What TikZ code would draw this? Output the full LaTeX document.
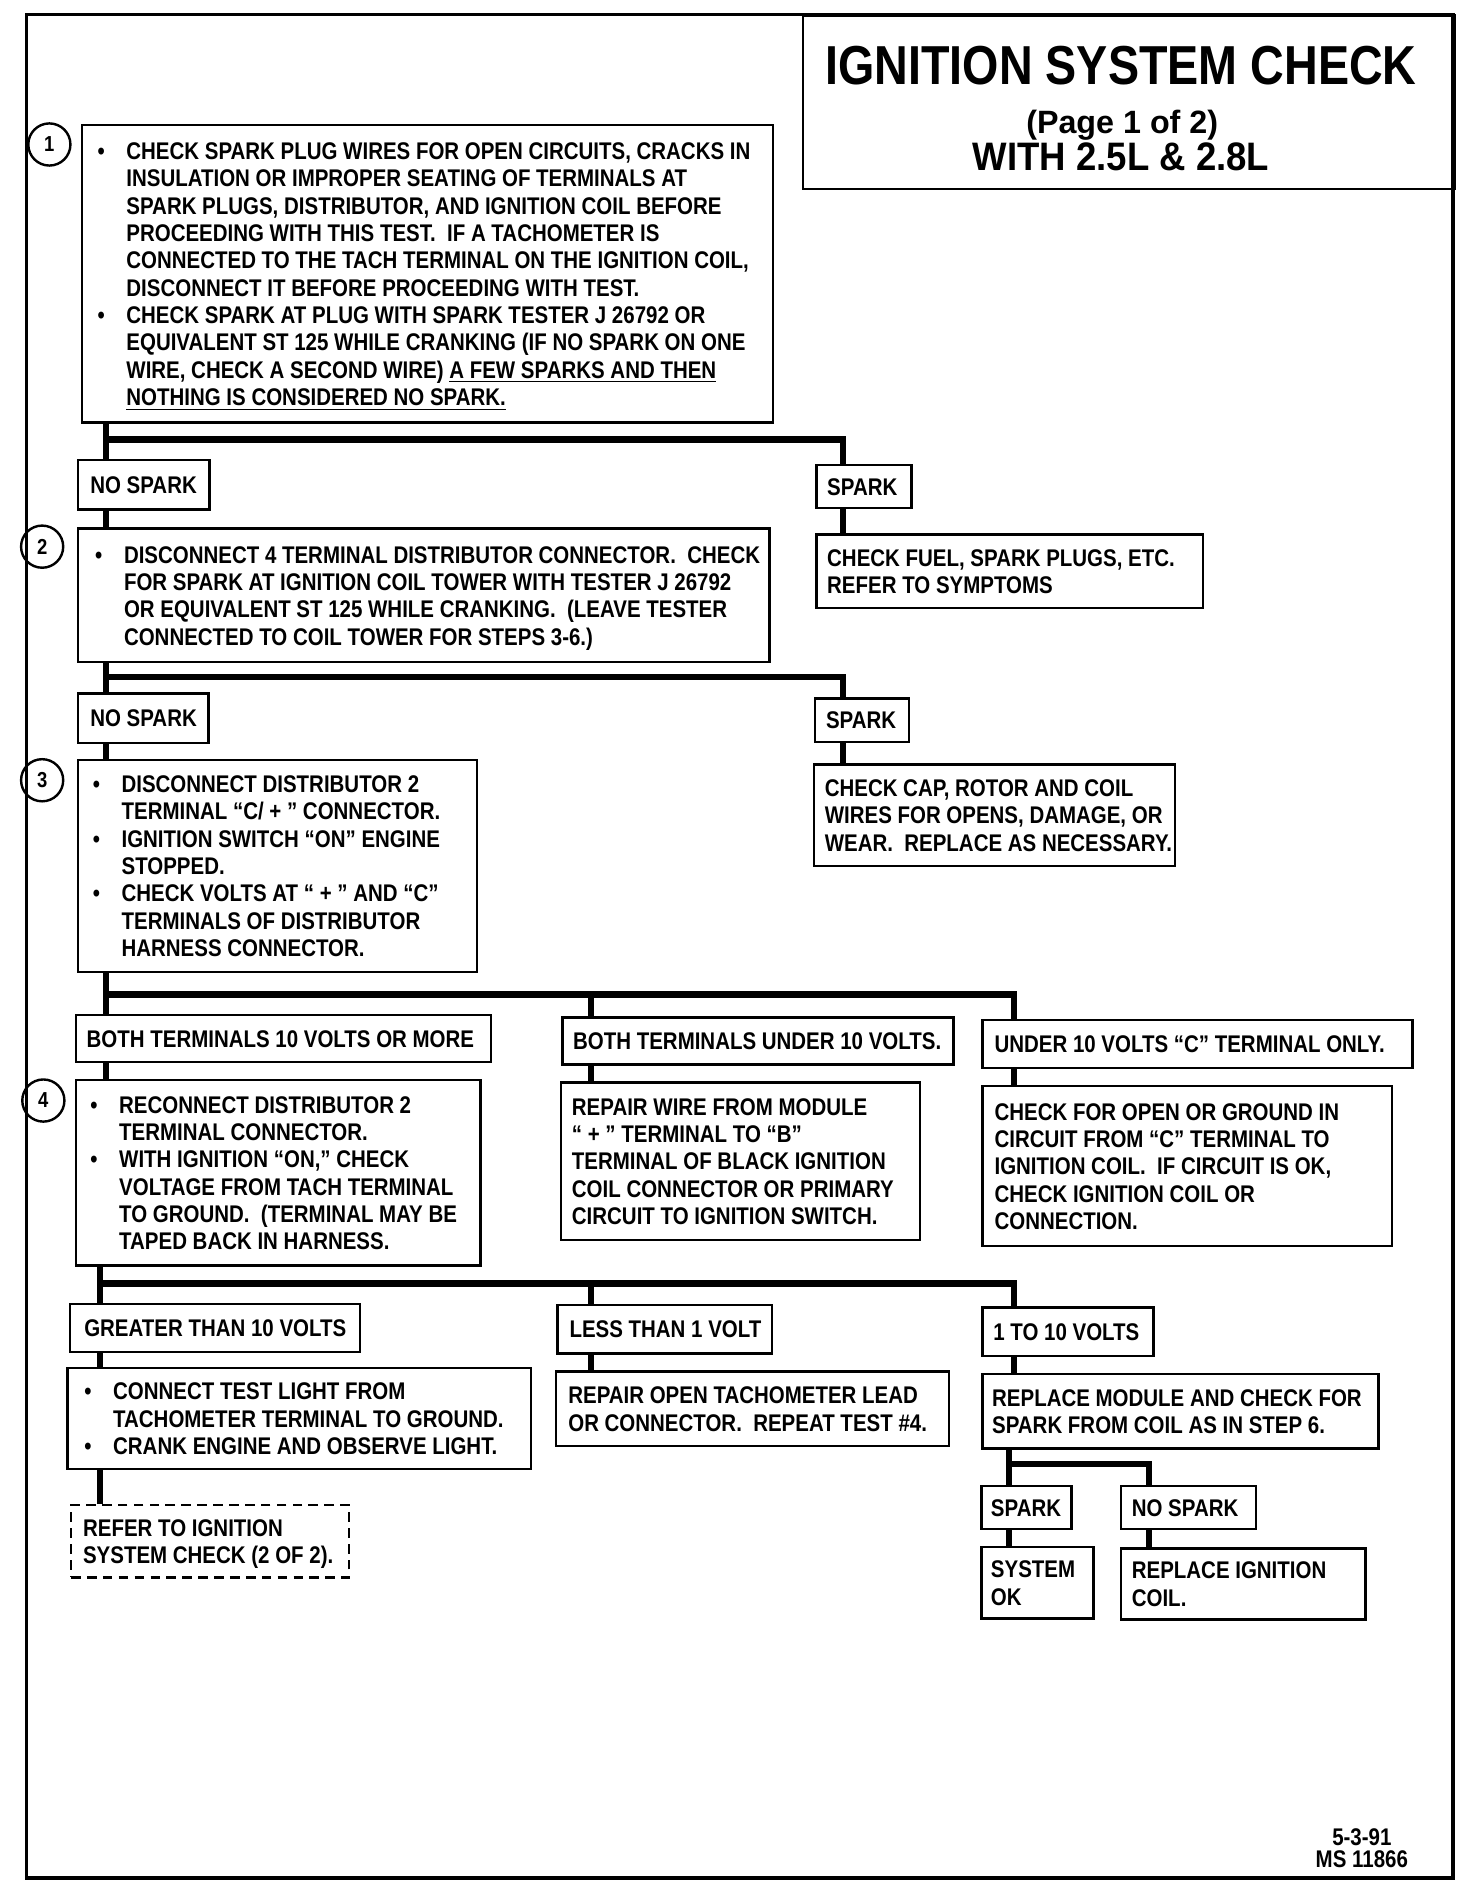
\documentclass[tikz,border=0pt]{standalone}
\usepackage{fontspec}
\setmainfont{Liberation Sans}[FakeStretch=0.85]
\newfontfamily\widef{Liberation Sans}
\newfontfamily\withf{Liberation Sans}[FakeStretch=0.92]
\setlength{\unitlength}{0.5pt}
\newcommand\fs{\fontsize{10}{11.35}\selectfont\bfseries}
\newcommand\cb[3]{\makebox[#1\unitlength][l]{\hspace*{#2\unitlength}\raisebox{-1.3pt}[\height][\depth]{\begin{tabular}{@{}l@{}}#3\end{tabular}}}}
\newcommand\bul{\llap{\textbullet\hspace{9pt}}}
\tikzset{
  bx/.style={draw, line width=1pt, anchor=north west, inner sep=0pt, font=\fs},
  dbx/.style={bx, dash pattern=on 4pt off 2.6pt},
  ht/.style={minimum height=#1*0.5pt},
  conn/.style={line width=2.6pt, line cap=butt, line join=miter},
  circ/.style={draw, circle, line width=1pt, minimum size=17.5pt, inner sep=0pt, font=\fontsize{9}{10}\selectfont\bfseries},
  outer/.style={line width=1.6pt}
}
\begin{document}
\begin{tikzpicture}[x=0.5pt, y=-0.5pt]
\useasboundingbox (0,0) rectangle (1223,1568);
\draw[outer] (22,12) rectangle (1207,1560);

% title
\node[draw, line width=1pt, anchor=north west, minimum width=270.5pt, minimum height=72pt, inner sep=0pt] (tb) at (666,12) {};
\node[anchor=base, font=\fontsize{22.8}{24}\selectfont\bfseries] (title) at (931,70) {IGNITION SYSTEM CHECK};
\node[anchor=base, font=\widef\fontsize{13.4}{15}\selectfont\bfseries] (page) at (932,110.5) {(Page 1 of 2)};
\node[anchor=base, font=\withf\fontsize{16.5}{18}\selectfont\bfseries] (with) at (931,142) {WITH 2.5L \& 2.8L};

% step circles
\node[circ] (n1) at (41,120) {1};
\node[circ] (n2) at (35,454) {2};
\node[circ] (n3) at (35,648) {3};
\node[circ] (n4) at (36,914) {4};

% boxes
\node[bx, ht=247] (b1) at (67,103) {\cb{574}{37}{%
\bul CHECK SPARK PLUG WIRES FOR OPEN CIRCUITS, CRACKS IN\\
INSULATION OR IMPROPER SEATING OF TERMINALS AT\\
SPARK PLUGS, DISTRIBUTOR, AND IGNITION COIL BEFORE\\
PROCEEDING WITH THIS TEST.~ IF A TACHOMETER IS\\
CONNECTED TO THE TACH TERMINAL ON THE IGNITION COIL,\\
DISCONNECT IT BEFORE PROCEEDING WITH TEST.\\
\bul CHECK SPARK AT PLUG WITH SPARK TESTER J 26792 OR\\
EQUIVALENT ST 125 WHILE CRANKING (IF NO SPARK ON ONE\\
WIRE, CHECK A SECOND WIRE) \underline{A FEW SPARKS AND THEN}\\
\underline{NOTHING IS CONSIDERED NO SPARK.}}};

\node[bx, ht=41] (ns1) at (64,381) {\cb{109}{10}{NO SPARK}};
\node[bx, ht=36] (sp1) at (677,385) {\cb{79}{9}{SPARK}};

\node[bx, ht=111] (b2) at (64,438) {\cb{574}{38}{%
\bul DISCONNECT 4 TERMINAL DISTRIBUTOR CONNECTOR.~ CHECK\\
FOR SPARK AT IGNITION COIL TOWER WITH TESTER J 26792\\
OR EQUIVALENT ST 125 WHILE CRANKING.~ (LEAVE TESTER\\
CONNECTED TO COIL TOWER FOR STEPS 3-6.)}};

\node[bx, ht=61] (fuel) at (677,443) {\cb{321}{9}{%
CHECK FUEL, SPARK PLUGS, ETC.\\
REFER TO SYMPTOMS}};

\node[bx, ht=41] (ns2) at (64,575) {\cb{108}{10}{NO SPARK}};
\node[bx, ht=36] (sp2) at (676,579) {\cb{78}{9}{SPARK}};

\node[bx, ht=176] (b3) at (64,630) {\cb{331}{36}{%
\bul DISCONNECT DISTRIBUTOR 2\\
TERMINAL “C/ + ” CONNECTOR.\\
\bul IGNITION SWITCH “ON” ENGINE\\
STOPPED.\\
\bul CHECK VOLTS AT “ + ” AND “C”\\
TERMINALS OF DISTRIBUTOR\\
HARNESS CONNECTOR.}};

\node[bx, ht=84] (cap) at (675,634) {\cb{300}{9}{%
CHECK CAP, ROTOR AND COIL\\
WIRES FOR OPENS, DAMAGE, OR\\
WEAR.~ REPLACE AS NECESSARY.}};

\node[bx, ht=39] (t10) at (62,842) {\cb{345}{9}{BOTH TERMINALS 10 VOLTS OR MORE}};
\node[bx, ht=39] (u10) at (466,844) {\cb{325}{9}{BOTH TERMINALS UNDER 10 VOLTS.}};
\node[bx, ht=40] (uc) at (815,846) {\cb{357}{10}{UNDER 10 VOLTS “C” TERMINAL ONLY.}};

\node[bx, ht=154] (b4) at (62,896) {\cb{336}{36}{%
\bul RECONNECT DISTRIBUTOR 2\\
TERMINAL CONNECTOR.\\
\bul WITH IGNITION “ON,” CHECK\\
VOLTAGE FROM TACH TERMINAL\\
TO GROUND.~ (TERMINAL MAY BE\\
TAPED BACK IN HARNESS.}};

\node[bx, ht=131] (rw) at (465,898) {\cb{298}{9}{%
REPAIR WIRE FROM MODULE\\
“ + ” TERMINAL TO “B”\\
TERMINAL OF BLACK IGNITION\\
COIL CONNECTOR OR PRIMARY\\
CIRCUIT TO IGNITION SWITCH.}};

\node[bx, ht=133] (co) at (815,901) {\cb{340}{10}{%
CHECK FOR OPEN OR GROUND IN\\
CIRCUIT FROM “C” TERMINAL TO\\
IGNITION COIL.~ IF CIRCUIT IS OK,\\
CHECK IGNITION COIL OR\\
CONNECTION.}};

\node[bx, ht=40] (gt) at (57,1082) {\cb{241}{12}{GREATER THAN 10 VOLTS}};
\node[bx, ht=40] (lt) at (462,1083) {\cb{178}{10}{LESS THAN 1 VOLT}};
\node[bx, ht=40] (ot) at (815,1085) {\cb{142}{9}{1 TO 10 VOLTS}};

\node[bx, ht=84] (ct) at (55,1135) {\cb{385}{38}{%
\bul CONNECT TEST LIGHT FROM\\
TACHOMETER TERMINAL TO GROUND.\\
\bul CRANK ENGINE AND OBSERVE LIGHT.}};

\node[bx, ht=62] (ro) at (461,1138) {\cb{326}{10}{%
REPAIR OPEN TACHOMETER LEAD\\
OR CONNECTOR.~ REPEAT TEST \#4.}};

\node[bx, ht=62] (rm) at (815,1140) {\cb{329}{8}{%
REPLACE MODULE AND CHECK FOR\\
SPARK FROM COIL AS IN STEP 6.}};

\node[dbx, ht=60] (ref) at (58,1249) {\cb{231}{10}{%
REFER TO IGNITION\\
SYSTEM CHECK (2 OF 2).}};

\node[bx, ht=36] (spk) at (814,1233) {\cb{75}{8}{SPARK}};
\node[bx, ht=36] (nsk) at (930,1233) {\cb{112}{9}{NO SPARK}};
\node[bx, ht=59] (sok) at (814,1284) {\cb{93}{8}{SYSTEM\\OK}};
\node[bx, ht=59] (rc) at (930,1285) {\cb{203}{9}{REPLACE IGNITION\\COIL.}};

% footer
\node[align=center, font=\fontsize{10}{9}\selectfont\bfseries] (foot) at (1131,1535) {5-3-91\\MS 11866};

% connector columns and junctions
\coordinate (ca) at (88,0);
\coordinate (cb) at (700,0);
\coordinate (cc) at (491,0);
\coordinate (cd) at (842,0);
\coordinate (ce) at (83,0);
\coordinate (cf) at (838,0);
\coordinate (cg) at (954,0);
\coordinate (j1) at (88,365);
\coordinate (j2) at (88,562);
\coordinate (j3) at (88,826);
\coordinate (j4) at (83,1066);
\coordinate (j5) at (838,1216);

\draw[conn] (ca |- b1.south) -- (ca |- ns1.north);
\draw[conn] (j1) -| (cb |- sp1.north);
\draw[conn] (ca |- ns1.south) -- (ca |- b2.north);
\draw[conn] (cb |- sp1.south) -- (cb |- fuel.north);
\draw[conn] (ca |- b2.south) -- (ca |- ns2.north);
\draw[conn] (j2) -| (cb |- sp2.north);
\draw[conn] (ca |- ns2.south) -- (ca |- b3.north);
\draw[conn] (cb |- sp2.south) -- (cb |- cap.north);
\draw[conn] (ca |- b3.south) -- (ca |- t10.north);
\draw[conn] (j3) -| (cd |- uc.north);
\draw[conn] (cc |- j3) -- (cc |- u10.north);
\draw[conn] (ca |- t10.south) -- (ca |- b4.north);
\draw[conn] (cc |- u10.south) -- (cc |- rw.north);
\draw[conn] (cd |- uc.south) -- (cd |- co.north);
\draw[conn] (ce |- b4.south) -- (ce |- gt.north);
\draw[conn] (j4) -| (cd |- ot.north);
\draw[conn] (cc |- j4) -- (cc |- lt.north);
\draw[conn] (ce |- gt.south) -- (ce |- ct.north);
\draw[conn] (cc |- lt.south) -- (cc |- ro.north);
\draw[conn] (cd |- ot.south) -- (cd |- rm.north);
\draw[conn] (ce |- ct.south) -- (ce |- ref.north);
\draw[conn] (cf |- rm.south) -- (cf |- spk.north);
\draw[conn] (j5) -| (cg |- nsk.north);
\draw[conn] (cf |- spk.south) -- (cf |- sok.north);
\draw[conn] (cg |- nsk.south) -- (cg |- rc.north);
\end{tikzpicture}
\end{document}
